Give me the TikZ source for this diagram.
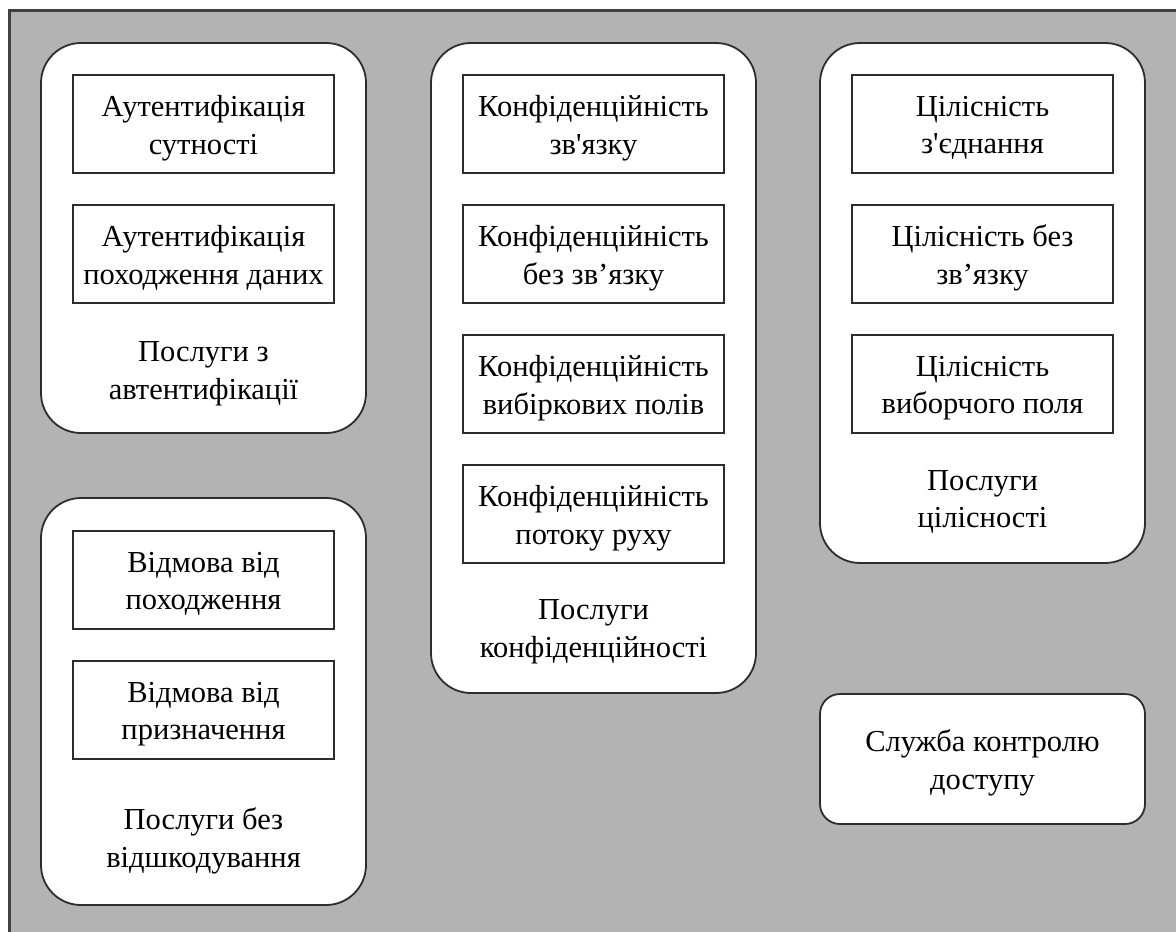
\documentclass[tikz,border=0pt]{standalone}
\usepackage{fontspec}
\newfontfamily\uafont{Liberation Serif}
\definecolor{panelgray}{RGB}{179,179,179}
\definecolor{framegray}{RGB}{64,64,64}
\definecolor{edgegray}{RGB}{45,45,45}
\newcommand{\boxfont}{\uafont\fontsize{30.5}{37.5}\selectfont}
\tikzset{
  groupbox/.style={draw=edgegray, line width=1.8pt, fill=white, rounded corners=40pt,
    minimum width=325pt, inner sep=0pt},
  servicebox/.style={draw=edgegray, line width=1.8pt, fill=white, minimum width=261pt,
    minimum height=98pt, inner sep=0pt},
  boxtext/.style={align=center, inner sep=0pt, font=\boxfont, yshift=-4pt},
  grouplabel/.style={align=center, inner sep=0pt, font=\boxfont}
}
% a service box with its two-line caption
\newcommand{\service}[3]{%
  \node[servicebox] (#1) at (#2) {};
  \node[boxtext] (#1-text) at (#1) {#3};}
\begin{document}
\begin{tikzpicture}[x=1pt, y=-1pt]
\useasboundingbox (0,0) rectangle (1176,932);
\begin{scope}
  \clip (0,0) rectangle (1176,932);
  \fill[panelgray] (9,10) rectangle (1200,960);
  \draw[framegray, line width=3pt] (9,960) -- (9,10) -- (1200,10);
\end{scope}

% authentication services
\node[groupbox, minimum height=390pt] (auth) at (203.5,238) {};
\service{auth1}{203.5,124}{Аутентифікація\\сутності}
\service{auth2}{203.5,254}{Аутентифікація\\походження даних}
\node[grouplabel] (authL) at (203.5,374) {Послуги з\\автентифікації};

% non-repudiation services
\node[groupbox, minimum height=407pt] (nonrep) at (203.5,701.5) {};
\service{nonrep1}{203.5,580}{Відмова від\\походження}
\service{nonrep2}{203.5,710}{Відмова від\\призначення}
\node[grouplabel] (nonrepL) at (203.5,841) {Послуги без\\відшкодування};

% confidentiality services
\node[groupbox, minimum height=650pt] (conf) at (593.5,368) {};
\service{conf1}{593.5,124}{Конфіденційність\\зв'язку}
\service{conf2}{593.5,254}{Конфіденційність\\без зв’язку}
\service{conf3}{593.5,384}{Конфіденційність\\вибіркових полів}
\service{conf4}{593.5,514}{Конфіденційність\\потоку руху}
\node[grouplabel] (confL) at (593.5,632) {Послуги\\конфіденційності};

% integrity services
\node[groupbox, minimum height=520pt] (integ) at (982.5,303) {};
\service{integ1}{982.5,124}{Цілісність\\з'єднання}
\service{integ2}{982.5,254}{Цілісність без\\зв’язку}
\service{integ3}{982.5,384}{Цілісність\\виборчого поля}
\node[grouplabel] (integL) at (982.5,502) {Послуги\\цілісності};

% access control
\node[groupbox, rounded corners=20pt, minimum height=130pt] (access) at (982.5,759) {};
\node[boxtext] (access-text) at (access) {Служба контролю\\доступу};
\end{tikzpicture}
\end{document}
